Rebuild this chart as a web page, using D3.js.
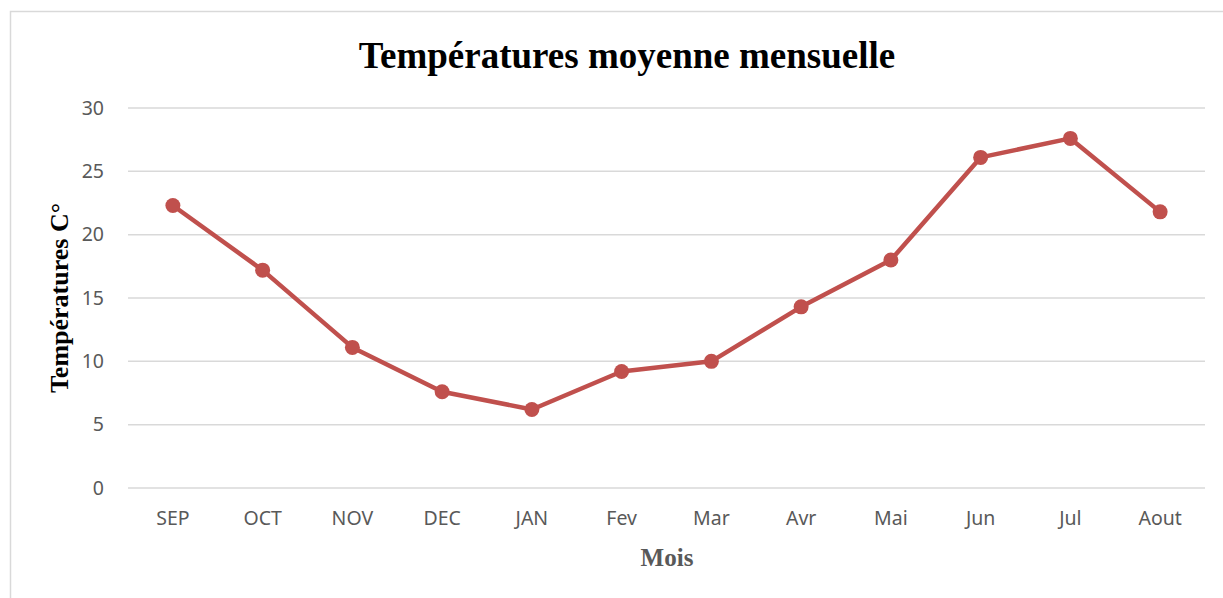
<!DOCTYPE html>
<html>
<head>
<meta charset="utf-8">
<script src="https://cdn.jsdelivr.net/npm/d3@7"></script>
<style>
  body{margin:0;background:#fff;}
  svg{display:block;}
</style>
</head>
<body>
<div id="chart"></div>
<script>
var months=["SEP","OCT","NOV","DEC","JAN","Fev","Mar","Avr","Mai","Jun","Jul","Aout"];
var temps=[22.3,17.2,11.1,7.6,6.2,9.2,10.0,14.3,18.0,26.1,27.6,21.8];
var yTicks=[0,5,10,15,20,25,30];

var width=1223, height=598;
var margin={left:128,right:18,top:108,bottom:110};

var svg=d3.select('#chart').append('svg')
    .attr('width',width)
    .attr('height',height);

// chart frame (only left and top edges visible)
svg.append('rect')
    .attr('x',10.5).attr('y',11.5)
    .attr('width',1240).attr('height',620)
    .attr('fill','none')
    .attr('stroke','#d9d9d9')
    .attr('stroke-width',1.5);

var x=d3.scaleBand()
    .domain(months)
    .range([margin.left,width-margin.right]);

var y=d3.scaleLinear()
    .domain([0,30])
    .range([height-margin.bottom,margin.top]);

// gridlines
svg.append('g')
    .selectAll('line').data(yTicks)
    .enter().append('line')
        .attr('x1',margin.left)
        .attr('x2',width-margin.right)
        .attr('y1',function(d){return y(d);})
        .attr('y2',function(d){return y(d);})
        .attr('stroke','#d9d9d9')
        .attr('stroke-width',1.5);

// y axis labels
var yAxis=d3.axisLeft(y).tickValues(yTicks).tickSize(0).tickPadding(0);
var yg=svg.append('g')
    .attr('transform','translate(104,0)')
    .call(yAxis);
yg.select('.domain').remove();
yg.selectAll('text')
    .attr('font-family','Noto Sans, sans-serif')
    .attr('font-size',19.5)
    .attr('fill','#595959');

// x axis labels
var xAxis=d3.axisBottom(x).tickSize(0).tickPadding(0);
var xg=svg.append('g')
    .attr('transform','translate(0,'+(y(0)+23)+')')
    .call(xAxis);
xg.select('.domain').remove();
xg.selectAll('text')
    .attr('font-family','Noto Sans, sans-serif')
    .attr('font-size',19.5)
    .attr('fill','#595959');

// line
var line=d3.line()
    .x(function(d,i){return x(months[i])+x.bandwidth()/2;})
    .y(function(d){return y(d);});

svg.append('path')
    .datum(temps)
    .attr('d',line)
    .attr('fill','none')
    .attr('stroke','#C0504D')
    .attr('stroke-width',4.5)
    .attr('stroke-linejoin','round');

svg.append('g')
    .selectAll('circle').data(temps)
    .enter().append('circle')
        .attr('cx',function(d,i){return x(months[i])+x.bandwidth()/2;})
        .attr('cy',function(d){return y(d);})
        .attr('r',7.5)
        .attr('fill','#C0504D');

// title
svg.append('text')
    .attr('x',627).attr('y',68)
    .attr('text-anchor','middle')
    .attr('font-family','Liberation Serif, Times New Roman, serif')
    .attr('font-weight','bold')
    .attr('font-size',37)
    .attr('fill','#000')
    .text('Températures moyenne mensuelle');

// axis titles
svg.append('text')
    .attr('transform','translate(68,298) rotate(-90)')
    .attr('text-anchor','middle')
    .attr('font-family','Liberation Serif, Times New Roman, serif')
    .attr('font-weight','bold')
    .attr('font-size',26)
    .attr('fill','#000')
    .text('Températures C°');

svg.append('text')
    .attr('x',667).attr('y',566)
    .attr('text-anchor','middle')
    .attr('font-family','Liberation Serif, Times New Roman, serif')
    .attr('font-weight','bold')
    .attr('font-size',25)
    .attr('fill','#595959')
    .text('Mois');
</script>
</body>
</html>
